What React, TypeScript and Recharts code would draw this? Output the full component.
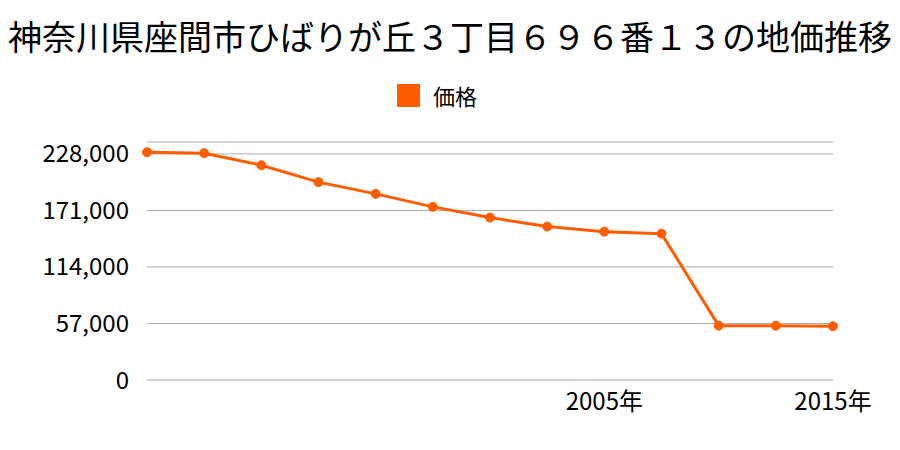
import React from "react";
import { LineChart, Line, XAxis, YAxis, CartesianGrid } from "recharts";

const years = ["1997年","1998年","1999年","2000年","2001年","2002年","2003年","2004年","2005年","2006年","2013年","2014年","2015年"];
const prices = [229700, 228700, 216600, 199500, 187700, 174600, 163800, 154700, 149600, 147600, 54800, 54800, 54200];
const yTicks = [0, 57000, 114000, 171000, 228000];
const xTicks = ["2005年", "2015年"];
const title = "神奈川県座間市ひばりが丘３丁目６９６番１３の地価推移";
const seriesName = "価格";

const data = years.map((y, i) => ({ year: y, price: prices[i] }));
const COLOR = "#ff5c00";
const FONT = "'Noto Sans CJK JP', 'Noto Sans', sans-serif";

export default function App() {
  return (
    <div style={{ position: "relative", width: 900, height: 450, background: "#fff" }}>
      <style>{"body{margin:0}"}</style>
      <div
        style={{
          position: "absolute",
          top: 15,
          left: 0,
          width: 900,
          textAlign: "center",
          fontFamily: FONT,
          fontSize: 34,
          lineHeight: "42px",
          color: "#000",
          whiteSpace: "nowrap",
        }}
      >
        {title}
      </div>
      <div
        style={{
          position: "absolute",
          top: 84,
          left: 397,
          display: "flex",
          alignItems: "center",
          fontFamily: FONT,
          height: 23,
        }}
      >
        <span style={{ display: "inline-block", width: 23, height: 23, background: COLOR, marginRight: 13 }} />
        <span style={{ fontSize: 22, color: "#000", lineHeight: "23px" }}>{seriesName}</span>
      </div>
      <LineChart width={900} height={450} data={data} margin={{ top: 142, right: 67, bottom: 40, left: 0 }}>
        <CartesianGrid vertical={false} stroke="#aaaaaa" strokeWidth={1} />
        <XAxis
          dataKey="year"
          scale="point"
          padding={{ left: 0, right: 0 }}
          ticks={xTicks}
          interval={0}
          axisLine={false}
          tickLine={false}
          height={30}
          tick={{ fill: "#000", fontSize: 24, fontFamily: FONT }}
          tickMargin={7}
        />
        <YAxis
          width={147}
          domain={[0, 240000]}
          ticks={yTicks}
          interval={0}
          axisLine={false}
          tickLine={false}
          tickFormatter={(v: number) => v.toLocaleString("en-US")}
          tick={{ fill: "#000", fontSize: 24, fontFamily: FONT }}
          tickMargin={12}
        />
        <Line
          type="linear"
          dataKey="price"
          name={seriesName}
          stroke={COLOR}
          strokeWidth={3}
          dot={{ r: 4.5, fill: COLOR, stroke: COLOR, strokeWidth: 1 }}
          isAnimationActive={false}
        />
      </LineChart>
    </div>
  );
}
